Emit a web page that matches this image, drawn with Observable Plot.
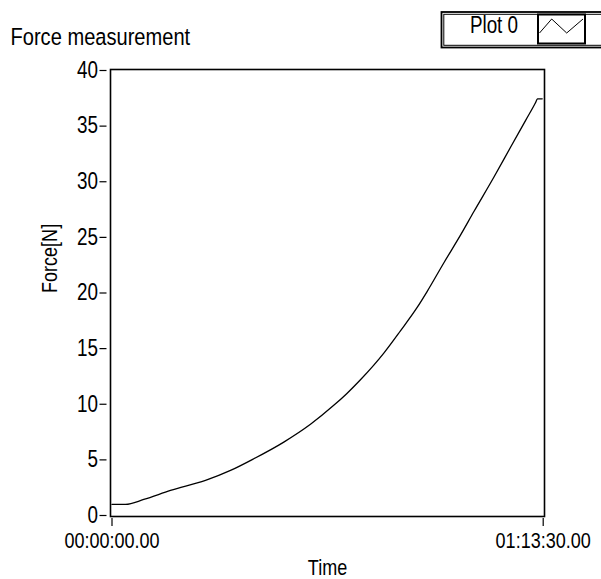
<!DOCTYPE html>
<html><head><meta charset="utf-8">
<script src="https://cdn.jsdelivr.net/npm/d3@7"></script>
<script src="https://cdn.jsdelivr.net/npm/@observablehq/plot@0.6"></script>
<style>
body{margin:0;background:#fff}
#wrap{position:relative;width:601px;height:579px}
#legend{position:absolute;left:0;top:0}
</style>
</head><body><div id="wrap"></div>
<script>
// Data (time in seconds, force in N)
const timeSec = [0, 138, 325, 598, 956, 1212, 1450, 1757, 2030, 2268, 2400, 2541, 2780, 2950, 3121, 3224, 3393, 3564, 3700, 3905, 4076, 4229, 4331, 4351, 4400];
const forceN  = [1.0, 1.0, 1.44, 2.25, 3.15, 4.05, 5.1, 6.6, 8.2, 9.9, 10.95, 12.2, 14.6, 16.6, 18.7, 20.15, 22.7, 25.2, 27.3, 30.4, 33.1, 35.5, 37.1, 37.45, 37.45];
const xTicks = [0, 4410];
const yTicks = [0, 5, 10, 15, 20, 25, 30, 35, 40];
const titleText = "Force measurement";
const xLabel = "Time";
const yLabel = "Force[N]";
const seriesName = "Plot 0";

const data = timeSec.map((t, i) => ({t, f: forceN[i]}));
const pad = (n) => String(n).padStart(2, "0");
const fmtTime = (s) => `${pad(Math.floor(s / 3600))}:${pad(Math.floor((s % 3600) / 60))}:${pad(Math.floor(s % 60))}.00`;

const FONT = '"Liberation Sans",Arial,sans-serif';

const chart = Plot.plot({
  width: 601, height: 579,
  marginLeft: 110, marginRight: 57, marginTop: 69, marginBottom: 63,
  style: {fontFamily: FONT, fontSize: "22px", background: "#fff", color: "#000"},
  x: {type: "linear", domain: [0, 4410], insetLeft: 1.5, insetRight: 1.3},
  y: {domain: [0, 40], insetTop: 1, insetBottom: 1},
  marks: [
    Plot.frame({stroke: "#000", strokeWidth: 1.6}),
    Plot.axisY({ticks: yTicks, tickSize: 7, tickPadding: 2, dx: -3.5, label: null, tickFormat: d => String(d), fontSize: 23, strokeWidth: 1.2}),
    Plot.axisX({ticks: xTicks, tickSize: 8, tickPadding: 6, dy: 2, label: null, tickFormat: fmtTime, fontSize: 22, strokeWidth: 1.2}),
    Plot.line(data, {x: "t", y: "f", stroke: "#000", strokeWidth: 1.3, curve: "monotone-x"}),
    Plot.text([xLabel], {frameAnchor: "bottom", dy: 58, lineAnchor: "bottom", text: d => d, fontSize: 22}),
    Plot.text([yLabel], {frameAnchor: "left", dx: -53.5, rotate: -90, lineAnchor: "bottom", text: d => d, fontSize: 22}),
    Plot.text([titleText], {frameAnchor: "top-left", dx: -100, dy: -25, lineAnchor: "bottom", textAnchor: "start", text: d => d, fontSize: 24.5})
  ]
});
document.getElementById("wrap").appendChild(chart);

// Legend box (top right, partially clipped by the window edge)
const ns = "http://www.w3.org/2000/svg";
const leg = document.createElementNS(ns, "svg");
leg.setAttribute("id", "legend");
leg.setAttribute("width", 601);
leg.setAttribute("height", 60);
leg.innerHTML = `
  <rect x="441.5" y="12" width="200" height="35.5" fill="#fff" stroke="#000" stroke-width="1.8"/>
  <rect x="443.8" y="14.3" width="200" height="31" fill="none" stroke="#000" stroke-width="1"/>
  <text x="494" y="33.5" text-anchor="middle" font-family='${FONT}' font-size="23" fill="#000">${seriesName}</text>
  <rect x="538" y="14.5" width="47" height="29" fill="#fff" stroke="#000" stroke-width="2"/>
  <polyline points="539.5,33 551.7,19 566.7,33 583,19" fill="none" stroke="#000" stroke-width="1"/>
`;
document.getElementById("wrap").appendChild(leg);

// Condensed (Helvetica Narrow-like) look: scale each text horizontally to 82% about its anchor
document.querySelectorAll("#wrap text").forEach(t => {
  const ax = parseFloat(t.getAttribute("x")) || 0;
  const ay = parseFloat(t.getAttribute("y")) || 0;
  const base = t.getAttribute("transform") || "";
  t.setAttribute("transform", `${base} translate(${ax},${ay}) scale(0.82,1) translate(${-ax},${-ay})`.trim());
});
</script>
</body></html>
